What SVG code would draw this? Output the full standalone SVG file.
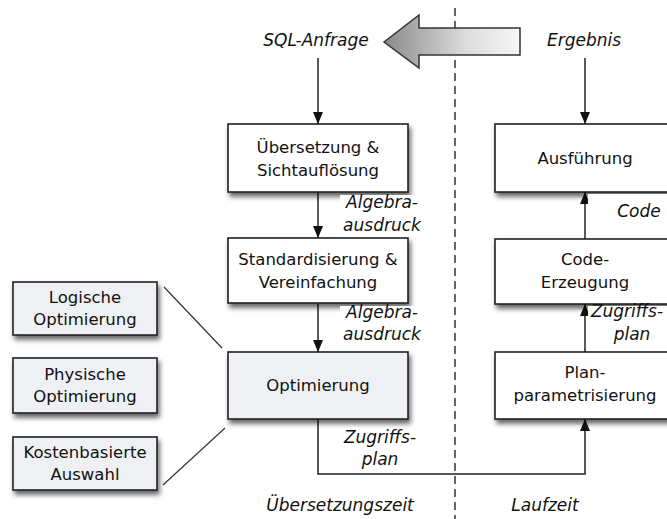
<svg xmlns="http://www.w3.org/2000/svg" width="667" height="519" viewBox="0 0 667 519">
  <defs>
    <style>
      .box { fill: #ffffff; stroke: #222222; stroke-width: 1.6; filter: url(#shadow); }
      .box.opt { fill: #eef0f3; }
      .txt { font-family: "DejaVu Sans", "Liberation Sans", sans-serif; font-size: 16.5px; fill: #111111; text-anchor: middle; }
      .lbl { font-family: "DejaVu Sans", "Liberation Sans", sans-serif; font-size: 17px; font-style: italic; fill: #111111; text-anchor: middle; }
      .edge { fill: none; stroke: #222222; stroke-width: 1.5; }
      .thin { fill: none; stroke: #333333; stroke-width: 1.2; }
      .bg { fill: #ffffff; }
    </style>
    <filter id="shadow" x="-10%" y="-10%" width="130%" height="140%">
      <feDropShadow dx="2" dy="4" stdDeviation="2.5" flood-color="#000000" flood-opacity="0.6"/>
    </filter>
    <marker id="head" markerUnits="userSpaceOnUse" markerWidth="12" markerHeight="10" refX="12" refY="5" orient="auto">
      <path d="M0,0 L12,5 L0,10 z" fill="#111111"/>
    </marker>
    <linearGradient id="bigArrowFill" x1="0" y1="0" x2="1" y2="0">
      <stop offset="0" stop-color="#8a8a8a"/>
      <stop offset="0.6" stop-color="#dcdcdc"/>
      <stop offset="1" stop-color="#f7f7f7"/>
    </linearGradient>
  </defs>

  <!-- phase separator -->
  <line x1="455" y1="8" x2="455" y2="519" stroke="#333333" stroke-width="1.5" stroke-dasharray="8 5"/>

  <!-- large return arrow -->
  <path d="M384,42 L419,15 L419,28 L520,28 L520,55 L419,55 L419,68 Z" fill="url(#bigArrowFill)" stroke="#333333" stroke-width="1.5"/>

  <!-- connectors -->
  <g id="connectors">
    <line class="edge" x1="318" y1="58" x2="318" y2="124" marker-end="url(#head)"/>
    <line class="edge" x1="318" y1="192" x2="318" y2="238" marker-end="url(#head)"/>
    <line class="edge" x1="318" y1="303" x2="318" y2="352" marker-end="url(#head)"/>
    <path class="edge" d="M318,419 V474 H585 V419" marker-end="url(#head)"/>
    <line class="edge" x1="585" y1="352" x2="585" y2="304" marker-end="url(#head)"/>
    <line class="edge" x1="585" y1="239" x2="585" y2="192" marker-end="url(#head)"/>
    <line class="edge" x1="585" y1="58" x2="585" y2="124" marker-end="url(#head)"/>
    <line class="thin" x1="164" y1="287" x2="222" y2="348"/>
    <line class="thin" x1="163" y1="485" x2="225" y2="428"/>
  </g>

  <!-- compile-time nodes -->
  <g id="uebersetzung">
    <rect class="box" x="228" y="124" width="180" height="68"/>
    <text class="txt" x="318" y="153">Übersetzung &amp;</text>
    <text class="txt" x="318" y="176">Sichtauflösung</text>
  </g>
  <g id="standardisierung">
    <rect class="box" x="228" y="238" width="180" height="65"/>
    <text class="txt" x="318" y="265">Standardisierung &amp;</text>
    <text class="txt" x="318" y="288">Vereinfachung</text>
  </g>
  <g id="optimierung">
    <rect class="box opt" x="228" y="352" width="180" height="67"/>
    <text class="txt" x="318" y="391">Optimierung</text>
  </g>

  <!-- optimization aspects -->
  <g id="logische">
    <rect class="box opt" x="13" y="282" width="144" height="53"/>
    <text class="txt" x="85" y="303">Logische</text>
    <text class="txt" x="85" y="325">Optimierung</text>
  </g>
  <g id="physische">
    <rect class="box opt" x="13" y="358" width="144" height="55"/>
    <text class="txt" x="85" y="380">Physische</text>
    <text class="txt" x="85" y="402">Optimierung</text>
  </g>
  <g id="kostenbasiert">
    <rect class="box opt" x="13" y="437" width="144" height="53"/>
    <text class="txt" x="85" y="458">Kostenbasierte</text>
    <text class="txt" x="85" y="480">Auswahl</text>
  </g>

  <!-- run-time nodes -->
  <g id="ausfuehrung">
    <rect class="box" x="495" y="124" width="180" height="68"/>
    <text class="txt" x="585" y="164">Ausführung</text>
  </g>
  <g id="codeerzeugung">
    <rect class="box" x="495" y="239" width="180" height="65"/>
    <text class="txt" x="585" y="265">Code-</text>
    <text class="txt" x="585" y="288">Erzeugung</text>
  </g>
  <g id="planparam">
    <rect class="box" x="495" y="352" width="180" height="67"/>
    <text class="txt" x="585" y="378">Plan-</text>
    <text class="txt" x="585" y="401">parametrisierung</text>
  </g>

  <!-- edge labels -->
  <g id="labels">
    <rect class="bg" x="340" y="195" width="86" height="42"/>
    <text class="lbl" x="382" y="208">Algebra-</text>
    <text class="lbl" x="382" y="231">ausdruck</text>
    <rect class="bg" x="340" y="306" width="86" height="40"/>
    <text class="lbl" x="382" y="318">Algebra-</text>
    <text class="lbl" x="382" y="340">ausdruck</text>
    <text class="lbl" x="380" y="443">Zugriffs-</text>
    <text class="lbl" x="380" y="465">plan</text>
    <rect class="bg" x="588" y="194" width="79" height="44"/>
    <text class="lbl" x="639" y="217">Code</text>
    <rect class="bg" x="588" y="306" width="79" height="45"/>
    <text class="lbl" x="627" y="317">Zugriffs-</text>
    <text class="lbl" x="632" y="340">plan</text>
    <text class="lbl" x="316" y="46">SQL-Anfrage</text>
    <text class="lbl" x="584" y="46">Ergebnis</text>
    <text class="lbl" x="340" y="511">Übersetzungszeit</text>
    <text class="lbl" x="545" y="511">Laufzeit</text>
  </g>
</svg>
